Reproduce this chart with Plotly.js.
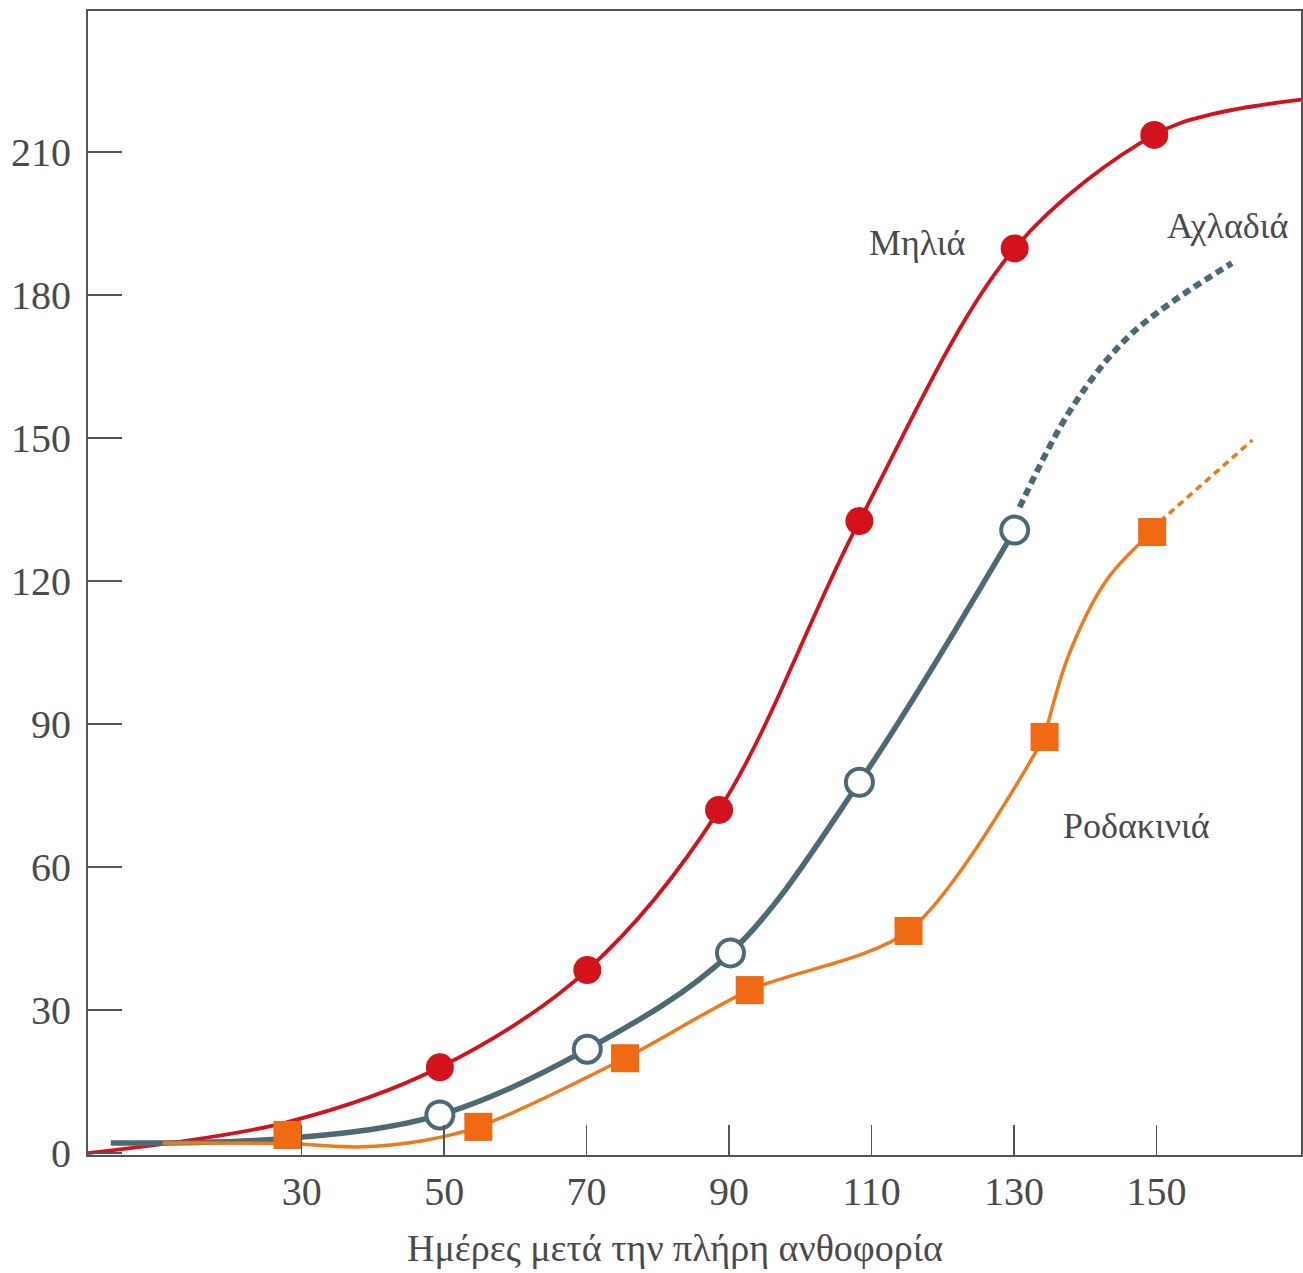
<!DOCTYPE html>
<html>
<head>
<meta charset="utf-8">
<script src="https://cdn.plot.ly/plotly-3.0.1.min.js"></script>
<style>html,body{margin:0;padding:0;background:#fff;}#chart{width:1303px;height:1273px;}</style>
</head>
<body>
<div id="chart"></div>
<script>
// ---- Data ----
const xTicks = [30, 50, 70, 90, 110, 130, 150];
const yTicks = [0, 30, 60, 90, 120, 150, 180, 210];

// Μηλιά (apple)
const appleX = [49.4, 70.1, 88.6, 108.3, 130.1, 149.7];
const appleY = [18.0, 38.4, 72.0, 132.6, 189.8, 213.6];
const appleCurveX = [0, 28, 49.4, 70.1, 88.6, 108.3, 130.1, 149.7, 158, 170.3];
const appleCurveY = [0, 6.5, 18.0, 38.4, 72.0, 132.6, 189.8, 213.6, 218, 221];

// Αχλαδιά (pear)
const pearX = [49.4, 70.1, 90.2, 108.3, 130.1];
const pearY = [8.0, 21.8, 42.0, 77.8, 130.7];
const pearCurveX = [3.2, 28, 49.4, 70.1, 90.2, 108.3, 130.1];
const pearCurveY = [2.1, 3.1, 8.0, 21.8, 42.0, 77.8, 130.7];
const pearDashX = [130.8, 138.2, 146.6, 160.6];
const pearDashY = [135.5, 156.5, 172.0, 186.7];

// Ροδακινιά (peach)
const peachX = [28.0, 54.8, 75.4, 92.9, 115.2, 134.3, 149.4];
const peachY = [3.8, 5.5, 19.9, 34.2, 46.6, 87.3, 130.3];
const peachCurveAX = [10.5, 28, 38, 47, 54.8, 75.4, 92.9, 115.2, 134.3];
const peachCurveAY = [2.1, 2.0, 1.3, 2.6, 5.5, 19.9, 34.2, 46.6, 87.3];
const peachCurveBX = [134.3, 137.8, 143.0, 149.4];
const peachCurveBY = [87.3, 104.9, 120.2, 130.3];
const peachDashX = [150.5, 163.5];
const peachDashY = [132.5, 149.6];

// Labels
const seriesNames = ["Μηλιά", "Αχλαδιά", "Ροδακινιά"];
const labelX = [116.5, 160, 147.2];
const labelY = [190.9, 194.5, 68.6];
const xTitle = "Ημέρες μετά την πλήρη ανθοφορία";

const RED = "#d3121c", TEAL = "#4d6a74", ORANGE = "#ee7a1e", SQ = "#ef6a12";
const FONT = "Liberation Serif";

const traces = [
  {x: appleCurveX, y: appleCurveY, mode: "lines", line: {color: RED, width: 3.8, shape: "spline", smoothing: 1}, hoverinfo: "skip"},
  {x: pearCurveX, y: pearCurveY, mode: "lines", line: {color: TEAL, width: 5.5, shape: "spline", smoothing: 1}, hoverinfo: "skip"},
  {x: pearDashX, y: pearDashY, mode: "lines", line: {color: TEAL, width: 6, dash: "8px,5px", shape: "spline", smoothing: 1}, hoverinfo: "skip"},
  {x: peachCurveAX, y: peachCurveAY, mode: "lines", line: {color: ORANGE, width: 3.5, shape: "spline", smoothing: 0.8}, hoverinfo: "skip"},
  {x: peachCurveBX, y: peachCurveBY, mode: "lines", line: {color: ORANGE, width: 3.5, shape: "spline", smoothing: 1}, hoverinfo: "skip"},
  {x: peachDashX, y: peachDashY, mode: "lines", line: {color: ORANGE, width: 3.5, dash: "7px,5px"}, hoverinfo: "skip"},
  {x: appleX, y: appleY, mode: "markers", name: seriesNames[0], marker: {color: RED, size: 28, line: {width: 0}}},
  {x: pearX, y: pearY, mode: "markers", name: seriesNames[1], marker: {color: "#ffffff", size: 27, line: {color: TEAL, width: 4}}},
  {x: peachX, y: peachY, mode: "markers", name: seriesNames[2], marker: {color: SQ, symbol: "square", size: 28, line: {width: 0}}}
];

const annotations = seriesNames.map((t, i) => ({
  x: labelX[i], y: labelY[i], xref: "x", yref: "y", text: t, showarrow: false,
  font: {family: FONT, size: 36, color: "#4a4a4a"}
}));
annotations.push({
  x: 0.484, y: -0.0813, xref: "paper", yref: "paper", xanchor: "center", yanchor: "middle",
  text: xTitle, showarrow: false, font: {family: FONT, size: 38, color: "#4a4a4a"}
});

const layout = {
  width: 1303, height: 1273,
  margin: {l: 88, r: 2, t: 11, b: 118},
  paper_bgcolor: "#fff", plot_bgcolor: "#fff",
  showlegend: false,
  xaxis: {
    range: [0, 170.3], tickvals: xTicks, ticktext: xTicks.map(String),
    ticks: "inside", ticklen: 30, tickwidth: 1.5, tickcolor: "#555",
    showline: true, mirror: true, linecolor: "#555", linewidth: 2,
    showgrid: false, zeroline: false, ticklabelstandoff: 0,
    tickfont: {family: FONT, size: 40, color: "#4a4a4a"}
  },
  yaxis: {
    range: [-0.4, 239.6], tickvals: yTicks, ticktext: yTicks.map(String),
    ticks: "inside", ticklen: 34, tickwidth: 1.5, tickcolor: "#555",
    showline: true, mirror: true, linecolor: "#555", linewidth: 2,
    showgrid: false, zeroline: false, ticklabelstandoff: 7,
    tickfont: {family: FONT, size: 40, color: "#4a4a4a"}
  },
  annotations: annotations
};

Plotly.newPlot("chart", traces, layout, {staticPlot: true});
</script>
</body>
</html>
